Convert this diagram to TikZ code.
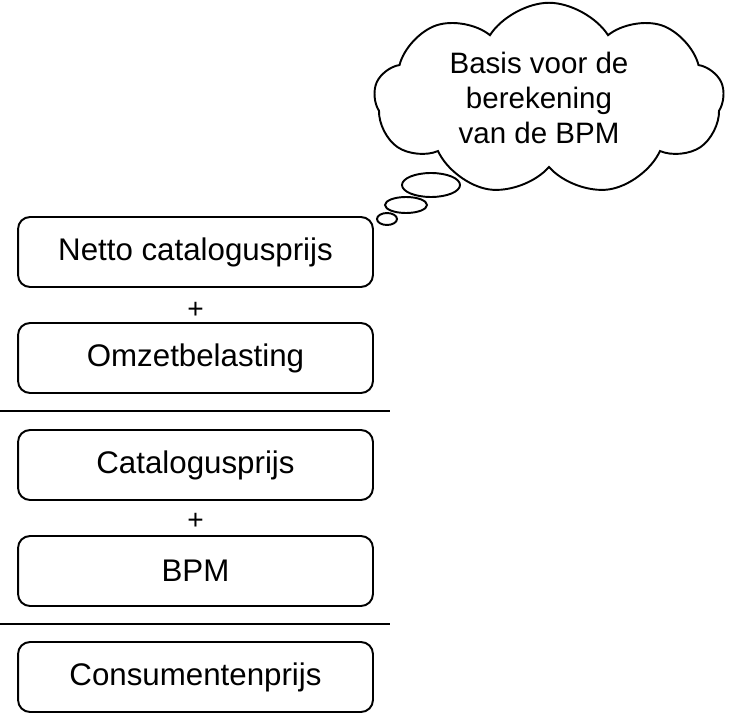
\documentclass[tikz,border=0pt]{standalone}
\usepackage{fontspec}
\setmainfont{Liberation Sans}
\usepackage{tikz}
\usetikzlibrary{shapes,shapes.symbols,shapes.geometric,positioning,calc}

\begin{document}
\begin{tikzpicture}[
    x=0.02cm, y=-0.02cm,
    pricebox/.style={rectangle, draw, line width=1.1pt, rounded corners=0.24cm,
        minimum width=7.1cm, minimum height=1.4cm, font=\fontsize{17.8}{21}\selectfont},
    plus/.style={font=\fontsize{16}{19}\selectfont, inner sep=0pt},
    sumline/.style={line width=1.6pt},
    thought/.style={cloud, draw, fill=white, line width=1.1pt, cloud puffs=9,
        cloud puff arc=115, aspect=1.8, minimum width=7cm, minimum height=3.85cm},
    thoughttext/.style={align=center, font=\fontsize{16.8}{20}\selectfont},
    bubble/.style={ellipse, draw, fill=white, line width=1.1pt, inner sep=0pt}
]
\useasboundingbox (0,0) rectangle (730,716);

% price stack
\node[pricebox] (netto) at (195.5,252) {Netto catalogusprijs};
\node[plus] (plus1) at (195.5,310) {+};
\node[pricebox] (omzet) at (195.5,358) {Omzetbelasting};
\node[pricebox] (catalogus) at (195.5,465) {Catalogusprijs};
\node[plus] (plus2) at (195.5,521) {+};
\node[pricebox] (bpm) at (195.5,571) {BPM};
\node[pricebox] (consument) at (195.5,677) {Consumentenprijs};

% sum lines
\coordinate (line1a) at (0,411);
\coordinate (line1b) at (390,411);
\coordinate (line2a) at (0,624);
\coordinate (line2b) at (390,624);
\draw[sumline] (line1a) -- (line1b);
\draw[sumline] (line2a) -- (line2b);

% thought cloud
\node[bubble, minimum width=0.4cm, minimum height=0.24cm] (bubble3) at (387,219) {};
\node[bubble, minimum width=0.84cm, minimum height=0.32cm] (bubble2) at (406,205) {};
\node[bubble, minimum width=1.16cm, minimum height=0.48cm] (bubble1) at (431,185) {};
\node[thought] (basis) at (549,99) {};
\node[thoughttext] (basistext) at (539,98) {Basis voor de\\berekening\\van de BPM};

\end{tikzpicture}
\end{document}
